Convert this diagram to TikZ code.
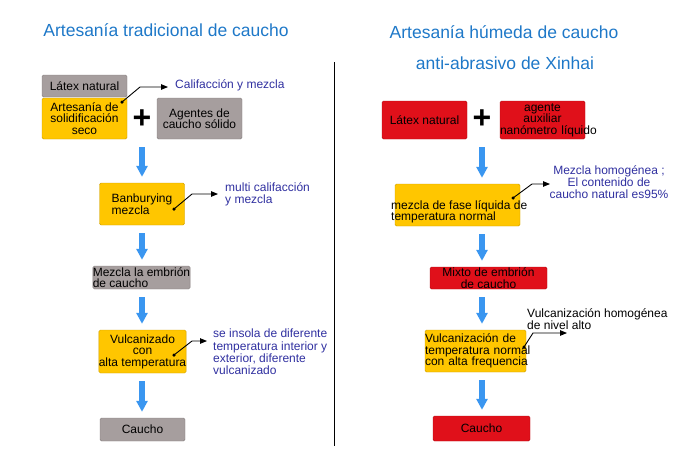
\documentclass[tikz,border=0pt]{standalone}
\usepackage{fontspec}
\setmainfont{Liberation Sans}
\usetikzlibrary{arrows.meta}

\definecolor{boxgray}{RGB}{166,158,158}
\definecolor{boxyellow}{RGB}{255,198,0}
\definecolor{boxred}{RGB}{224,16,26}
\definecolor{flowblue}{RGB}{58,150,240}
\definecolor{titleblue}{RGB}{30,120,200}
\definecolor{noteblue}{RGB}{48,48,160}

\begin{document}
\begin{tikzpicture}[x=1pt, y=-1pt,
  box/.style={draw=#1!80!black, fill=#1, rounded corners=1.5pt, inner sep=0pt,
    align=center, font=\fontsize{12}{11.5}\selectfont},
  plussign/.style={font=\fontsize{32}{32}\selectfont\bfseries, inner sep=0pt},
  title/.style={text=titleblue, font=\fontsize{17.5}{20}\selectfont},
  note/.style={text=noteblue, inner sep=0pt, font=\fontsize{12}{12.3}\selectfont},
  flow/.style={draw=flowblue, line width=5.5pt, shorten <=8pt, shorten >=6pt,
    -{Triangle[width=11pt,length=11pt]}},
  dot/.style={circle, fill=black, inner sep=0pt, minimum size=3.5pt},
  callout/.style={draw=black, line width=0.9pt, -{Triangle[length=7pt,width=5.5pt]}}]
  \useasboundingbox (0,0) rectangle (674,456);

  % titles and divider
  \node[title] (titleA) at (166,30) {Artesanía tradicional de caucho};
  \node[title] (titleB) at (504,32) {Artesanía húmeda de caucho};
  \node[title] (titleC) at (505,63) {anti-abrasivo de Xinhai};
  \draw[black, line width=0.8pt] (334,62) -- (334,446);

  % left column
  \node[box=boxgray, minimum width=85pt, minimum height=22pt] (latexA) at (84.5,86) {Látex natural};
  \node[box=boxyellow, minimum width=85pt, minimum height=41pt] (solid) at (84.5,118.5) {Artesanía de\\solidificación\\seco};
  \node[plussign] (plusA) at (142,119) {+};
  \node[box=boxgray, minimum width=85pt, minimum height=41pt] (agentes) at (199.5,118.5) {Agentes de\\caucho sólido};
  \node[box=boxyellow, minimum width=85pt, minimum height=42pt, align=left] (banbury) at (142,204) {Banburying\\mezcla};
  \node[box=boxgray, minimum width=97pt, minimum height=23pt, align=left] (embrionA) at (141.5,277.5) {Mezcla la embrión\\de caucho};
  \node[box=boxyellow, minimum width=85pt, minimum height=43pt] (vulcA) at (142.5,351.5) {Vulcanizado\\con\\alta temperatura};
  \node[box=boxgray, minimum width=85pt, minimum height=23pt] (cauchoA) at (142.5,429.5) {Caucho};

  \draw[flow] (plusA |- solid.south) -- (plusA |- banbury.north);
  \draw[flow] (plusA |- banbury.south) -- (plusA |- embrionA.north);
  \draw[flow] (plusA |- embrionA.south) -- (plusA |- vulcA.north);
  \draw[flow] (plusA |- vulcA.south) -- (plusA |- cauchoA.north);

  % left notes
  \node[dot] (dotA) at (122,102) {};
  \coordinate (kneeA) at (140,87);
  \coordinate (tipA) at (168,87);
  \node[note, anchor=west] (noteA) at (175,85) {Califacción y mezcla};
  \draw[callout] (dotA.center) -- (kneeA) -- (tipA);

  \node[dot] (dotB) at (174,209) {};
  \coordinate (kneeB) at (192,194);
  \coordinate (tipB) at (218,194);
  \node[note, anchor=west, align=left] (noteB) at (225,194.5) {multi califacción\\y mezcla};
  \draw[callout] (dotB.center) -- (kneeB) -- (tipB);

  \node[dot] (dotC) at (174,355) {};
  \coordinate (kneeC) at (192,341);
  \coordinate (tipC) at (207,341);
  \node[note, anchor=west, align=left] (noteC) at (213,352) {se insola de diferente\\temperatura interior y\\exterior, diferente\\vulcanizado};
  \draw[callout] (dotC.center) -- (kneeC) -- (tipC);

  % right column
  \node[box=boxred, minimum width=85pt, minimum height=38pt] (latexB) at (424.5,120) {Látex natural};
  \node[plussign] (plusB) at (482,119) {+};
  \node[box=boxred, text width=85pt, minimum height=38pt] (auxiliar) at (542.5,120) {agente\\auxiliar\\\mbox{nanómetro líquido}};
  \node[box=boxyellow, minimum width=125pt, minimum height=42pt] (fase) at (457.5,205) {};
  \node[anchor=north west, inner sep=0pt, align=left, font=\fontsize{12}{11.5}\selectfont] (faseTxt) at (391,200) {mezcla de fase líquida de\\temperatura normal};
  \node[box=boxred, minimum width=117pt, minimum height=22pt] (embrionB) at (488.5,278) {Mixto de embrión\\de caucho};
  \node[box=boxyellow, text width=101pt, minimum height=42pt, align=left] (vulcB) at (475.5,351) {\mbox{Vulcanización de}\\\mbox{temperatura normal}\\\mbox{con alta frequencia}};
  \node[box=boxred, minimum width=97pt, minimum height=25pt] (cauchoB) at (481.5,428.5) {Caucho};

  \draw[flow] (plusB |- latexB.south) -- (plusB |- fase.north);
  \draw[flow] (plusB |- fase.south) -- (plusB |- embrionB.north);
  \draw[flow] (plusB |- embrionB.south) -- (plusB |- vulcB.north);
  \draw[flow] (plusB |- vulcB.south) -- (plusB |- cauchoB.north);

  % right notes
  \node[dot] (dotD) at (513,198) {};
  \coordinate (kneeD) at (532,184);
  \coordinate (tipD) at (550,184);
  \node[note, align=center] (noteD) at (609,182) {Mezcla homogénea ;\\El contenido de\\caucho natural es95\%};
  \draw[callout] (dotD.center) -- (kneeD) -- (tipD);

  \node[dot] (dotE) at (524,347) {};
  \coordinate (kneeE) at (533,333);
  \coordinate (tipE) at (567,333);
  \node[note, text=black, anchor=west, align=left] (noteE) at (527,319) {Vulcanización homogénea\\de nivel alto};
  \draw[callout] (dotE.center) -- (kneeE) -- (tipE);
\end{tikzpicture}
\end{document}
